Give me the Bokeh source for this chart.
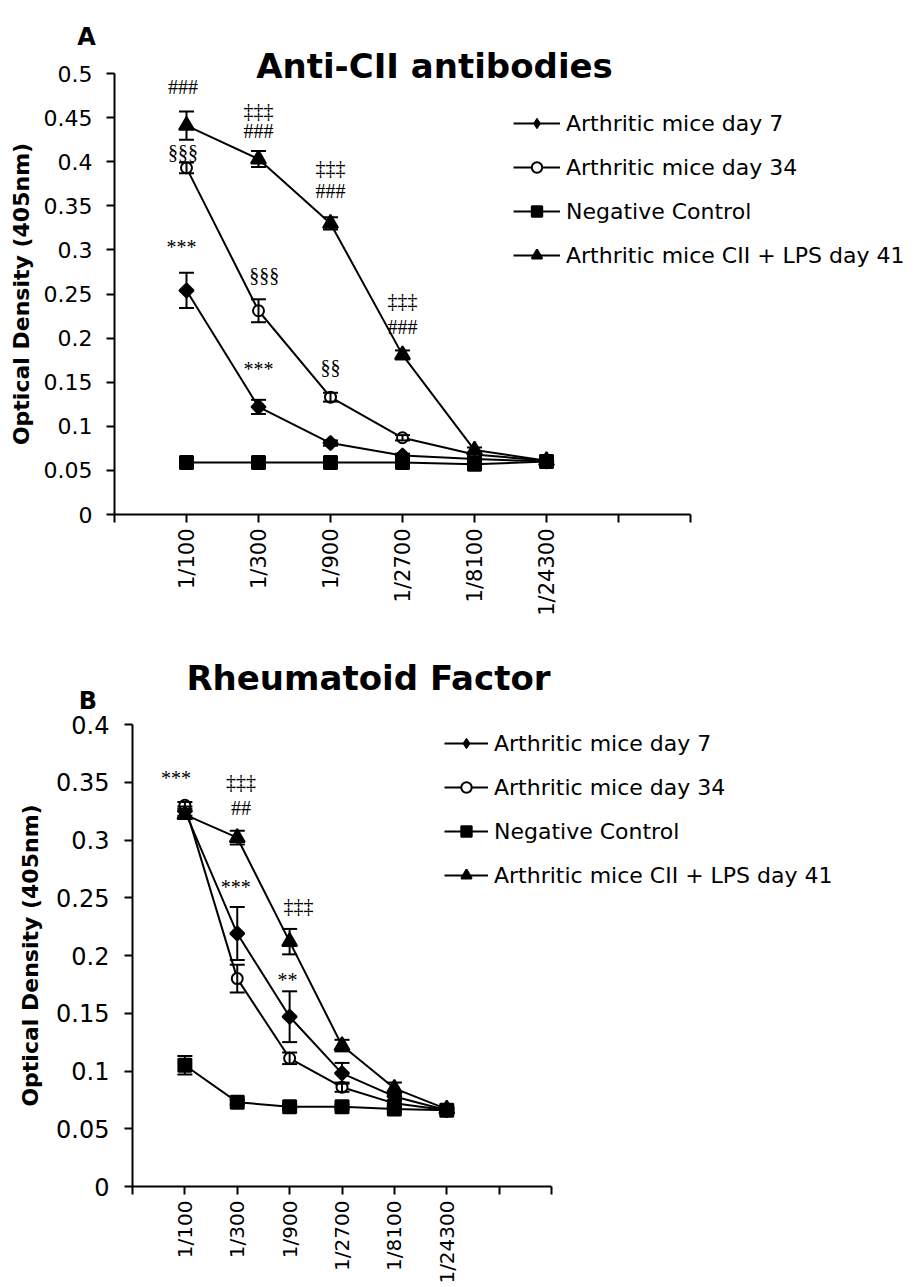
import math

from bokeh.embed import file_html
from bokeh.layouts import column
from bokeh.models import (ColumnDataSource, FixedTicker, Label, Legend, LegendItem,
                          LinearAxis, NumeralTickFormatter, Range1d, TeeHead, Whisker)
from bokeh.plotting import figure
from bokeh.resources import INLINE

# ---------------------------------------------------------------- data
dilutions = ["1/100", "1/300", "1/900", "1/2700", "1/8100", "1/24300"]
series_names = ["Arthritic mice day 7", "Arthritic mice day 34",
                "Negative Control", "Arthritic mice CII + LPS day 41"]

# Anti-CII antibodies: optical density at 405 nm (mean) and error
cii_day7 = [0.254, 0.122, 0.081, 0.067, 0.063, 0.060]
cii_day7_err = [0.020, 0.008, 0.003, 0.002, 0.002, 0.002]
cii_day34 = [0.393, 0.231, 0.133, 0.087, 0.068, 0.061]
cii_day34_err = [0.006, 0.013, 0.005, 0.003, 0.002, 0.002]
cii_negative = [0.059, 0.059, 0.059, 0.059, 0.057, 0.060]
cii_negative_err = [0.002, 0.002, 0.002, 0.002, 0.002, 0.002]
cii_lps_day41 = [0.441, 0.403, 0.330, 0.181, 0.073, 0.061]
cii_lps_day41_err = [0.016, 0.009, 0.007, 0.005, 0.003, 0.002]

# Rheumatoid factor: optical density at 405 nm (mean) and error
rf_day7 = [0.325, 0.219, 0.147, 0.098, 0.078, 0.066]
rf_day7_err = [0.004, 0.023, 0.022, 0.009, 0.004, 0.002]
rf_day34 = [0.330, 0.180, 0.111, 0.086, 0.072, 0.066]
rf_day34_err = [0.003, 0.012, 0.005, 0.004, 0.003, 0.002]
rf_negative = [0.105, 0.073, 0.069, 0.069, 0.067, 0.066]
rf_negative_err = [0.008, 0.002, 0.002, 0.002, 0.002, 0.002]
rf_lps_day41 = [0.322, 0.302, 0.212, 0.122, 0.085, 0.067]
rf_lps_day41_err = [0.003, 0.006, 0.011, 0.005, 0.005, 0.002]

# significance marks: category position, height (OD units), text
cii_marks_x = [0.95, 0.95, 0.93, 2.0, 2.0, 2.08, 2.0, 3.0, 3.0, 3.0, 4.0, 4.0]
cii_marks_y = [0.4845, 0.411, 0.303, 0.458, 0.4346, 0.272, 0.1655,
               0.393, 0.367, 0.1667, 0.242, 0.2124]
cii_marks = ["###", "§§§", "***", "‡‡‡", "###", "§§§", "***",
             "‡‡‡", "###", "§§", "‡‡‡", "###"]

rf_marks_x = [0.83, 2.07, 2.07, 1.97, 3.17, 2.96]
rf_marks_y = [0.3535, 0.350, 0.328, 0.2594, 0.243, 0.1785]
rf_marks = ["***", "‡‡‡", "##", "***", "‡‡‡", "**"]

cii_yticks = [0, 0.05, 0.1, 0.15, 0.2, 0.25, 0.3, 0.35, 0.4, 0.45, 0.5]
rf_yticks = [0, 0.05, 0.1, 0.15, 0.2, 0.25, 0.3, 0.35, 0.4]

# ---------------------------------------------------------------- styling
SANS = "DejaVu Sans"
SERIF = "Liberation Serif"

marker_styles = [
    dict(marker="square", size=10, angle=math.pi / 4, fill_color="black", key="diamond"),
    dict(marker="circle", size=11, angle=0.0, fill_color="white", key="circle"),
    dict(marker="square", size=13, angle=0.0, fill_color="black", key="square"),
    dict(marker="triangle", size=15, angle=0.0, fill_color="black", key="triangle"),
]


def build_panel(means, errs, ymax, yticks, title, letter, marks_x, marks_y, marks,
                geom, ytick_size, xtick_size, ylab_standoff, ytick_standoff,
                title_px, letter_px, legend_px, legend_glyph_w):
    """geom: canvas size and pixel placement of the plotting area.
    The frame covers the whole canvas; the axes are pinned at x=0 / y=0 and bounded,
    so titles and the legend can sit anywhere without being clipped."""
    n_cat = len(dilutions)
    n_slots = n_cat + 2
    W, H = geom["w"], geom["h"]
    left, right, top, bottom = geom["left"], geom["right"], geom["top"], geom["bottom"]
    sx = (right - left) / n_slots
    sy = (bottom - top) / ymax

    def to_data(px, py):
        return (px - left) / sx, (bottom - py) / sy

    p = figure(width=W, height=H,
               x_range=Range1d(-left / sx, (W - left) / sx),
               y_range=Range1d((bottom - H) / sy, bottom / sy),
               x_axis_location=None, y_axis_location=None,
               output_backend="svg", toolbar_location=None,
               min_border=0, min_border_left=0, min_border_right=0,
               min_border_top=0, min_border_bottom=0)
    p.frame_align = False
    p.outline_line_color = None
    p.xgrid.visible = False
    p.ygrid.visible = False
    p.background_fill_color = "white"
    p.border_fill_color = "white"

    x = list(range(1, n_cat + 1))
    items = []
    for name, ys, es, st in zip(series_names, means, errs, marker_styles):
        src = ColumnDataSource(dict(
            x=x, y=ys,
            upper=[v + e for v, e in zip(ys, es)],
            lower=[v - e for v, e in zip(ys, es)],
        ))
        ln = p.line("x", "y", source=src, line_color="black", line_width=2)
        mk = p.scatter("x", "y", source=src, marker=st["marker"], size=st["size"],
                       angle=st["angle"], fill_color=st["fill_color"], line_color="black",
                       line_width=2)
        if st["key"] == "diamond":
            # legend swatch only (a single undefined point, nothing drawn in the plot)
            sw = p.scatter(x=[float("nan")], y=[float("nan")], marker="diamond", size=16,
                           fill_color="black", line_color="black", line_width=1)
            items.append(LegendItem(label=name, renderers=[ln, sw]))
        else:
            items.append(LegendItem(label=name, renderers=[ln, mk]))
        w = Whisker(base="x", upper="upper", lower="lower", source=src,
                    line_color="black", line_width=2, level="overlay",
                    upper_head=TeeHead(size=15, line_width=2, line_color="black"),
                    lower_head=TeeHead(size=15, line_width=2, line_color="black"))
        p.add_layout(w)

    # category axis pinned at OD = 0
    overrides = {i: "" for i in range(0, n_slots + 1)}
    for i, lab in enumerate(dilutions):
        overrides[i + 1] = lab
    xa = LinearAxis(fixed_location=0, bounds=(0, n_slots),
                    ticker=FixedTicker(ticks=list(range(0, n_slots + 1))))
    xa.major_label_overrides = overrides
    xa.major_label_orientation = math.pi / 2
    xa.major_label_text_font = SANS
    xa.major_label_text_font_size = xtick_size
    xa.major_label_text_color = "black"
    xa.major_label_standoff = 6
    xa.minor_tick_line_color = None
    xa.major_tick_in = 0
    xa.major_tick_out = 8
    xa.major_tick_line_width = 2
    xa.axis_line_width = 2
    xa.axis_line_color = "black"
    xa.major_tick_line_color = "black"
    p.add_layout(xa, "below")

    # value axis pinned at the left end of the category axis
    ya = LinearAxis(fixed_location=0, bounds=(0, ymax), ticker=FixedTicker(ticks=yticks))
    ya.formatter = NumeralTickFormatter(format="0.[00]")
    ya.major_label_text_font = SANS
    ya.major_label_text_font_size = ytick_size
    ya.major_label_text_color = "black"
    ya.major_label_standoff = ytick_standoff
    ya.minor_tick_line_color = None
    ya.major_tick_in = 0
    ya.major_tick_out = 8
    ya.major_tick_line_width = 2
    ya.axis_line_width = 2
    ya.axis_line_color = "black"
    ya.major_tick_line_color = "black"
    ya.axis_label = "Optical Density (405nm)"
    ya.axis_label_text_font = SANS
    ya.axis_label_text_font_size = "22px"
    ya.axis_label_text_font_style = "bold"
    ya.axis_label_text_color = "black"
    ya.axis_label_standoff = ylab_standoff
    p.add_layout(ya, "left")

    # title and panel letter
    tx, ty = to_data(*title_px)
    p.add_layout(Label(x=tx, y=ty, text=title, text_align="center",
                       text_baseline="alphabetic", text_font=SANS, text_font_size="34px",
                       text_font_style="bold", text_color="black"))
    lx, ly = to_data(*letter_px)
    p.add_layout(Label(x=lx, y=ly, text=letter, text_align="center",
                       text_baseline="alphabetic", text_font=SANS, text_font_size="24px",
                       text_font_style="bold", text_color="black"))

    # significance marks
    for mx, my, mt in zip(marks_x, marks_y, marks):
        p.add_layout(Label(x=mx, y=my, text=mt, text_align="center", text_baseline="middle",
                           text_font=SERIF, text_font_size="20px", text_color="black"))

    # legend: location is its lower-left corner, in pixels from the frame's lower-left
    lg = Legend(items=items, location=(legend_px[0], H - legend_px[1]))
    lg.border_line_color = None
    lg.background_fill_alpha = 0
    lg.padding = 0
    lg.margin = 0
    lg.spacing = 18
    lg.glyph_width = legend_glyph_w
    lg.glyph_height = 26
    lg.label_height = 26
    lg.label_standoff = 6
    lg.label_text_font = SANS
    lg.label_text_font_size = "22px"
    lg.label_text_color = "black"
    p.add_layout(lg, "center")
    return p


p_cii = build_panel(
    [cii_day7, cii_day34, cii_negative, cii_lps_day41],
    [cii_day7_err, cii_day34_err, cii_negative_err, cii_lps_day41_err],
    0.5, cii_yticks, "Anti-CII antibodies", "A", cii_marks_x, cii_marks_y, cii_marks,
    geom=dict(w=916, h=620, left=114, right=690, top=73, bottom=514),
    ytick_size="22px", xtick_size="21px", ylab_standoff=7, ytick_standoff=14,
    title_px=(434, 65), letter_px=(86, 36), legend_px=(513, 268), legend_glyph_w=47)

p_rf = build_panel(
    [rf_day7, rf_day34, rf_negative, rf_lps_day41],
    [rf_day7_err, rf_day34_err, rf_negative_err, rf_lps_day41_err],
    0.4, rf_yticks, "Rheumatoid Factor", "B", rf_marks_x, rf_marks_y, rf_marks,
    geom=dict(w=916, h=667, left=132, right=551, top=104, bottom=566),
    ytick_size="24px", xtick_size="20px", ylab_standoff=10, ytick_standoff=15,
    title_px=(368, 57), letter_px=(87.5, 80), legend_px=(444, 268), legend_glyph_w=44)

layout = column(p_cii, p_rf, spacing=0)
open("out.html", "w").write(file_html(layout, INLINE))
